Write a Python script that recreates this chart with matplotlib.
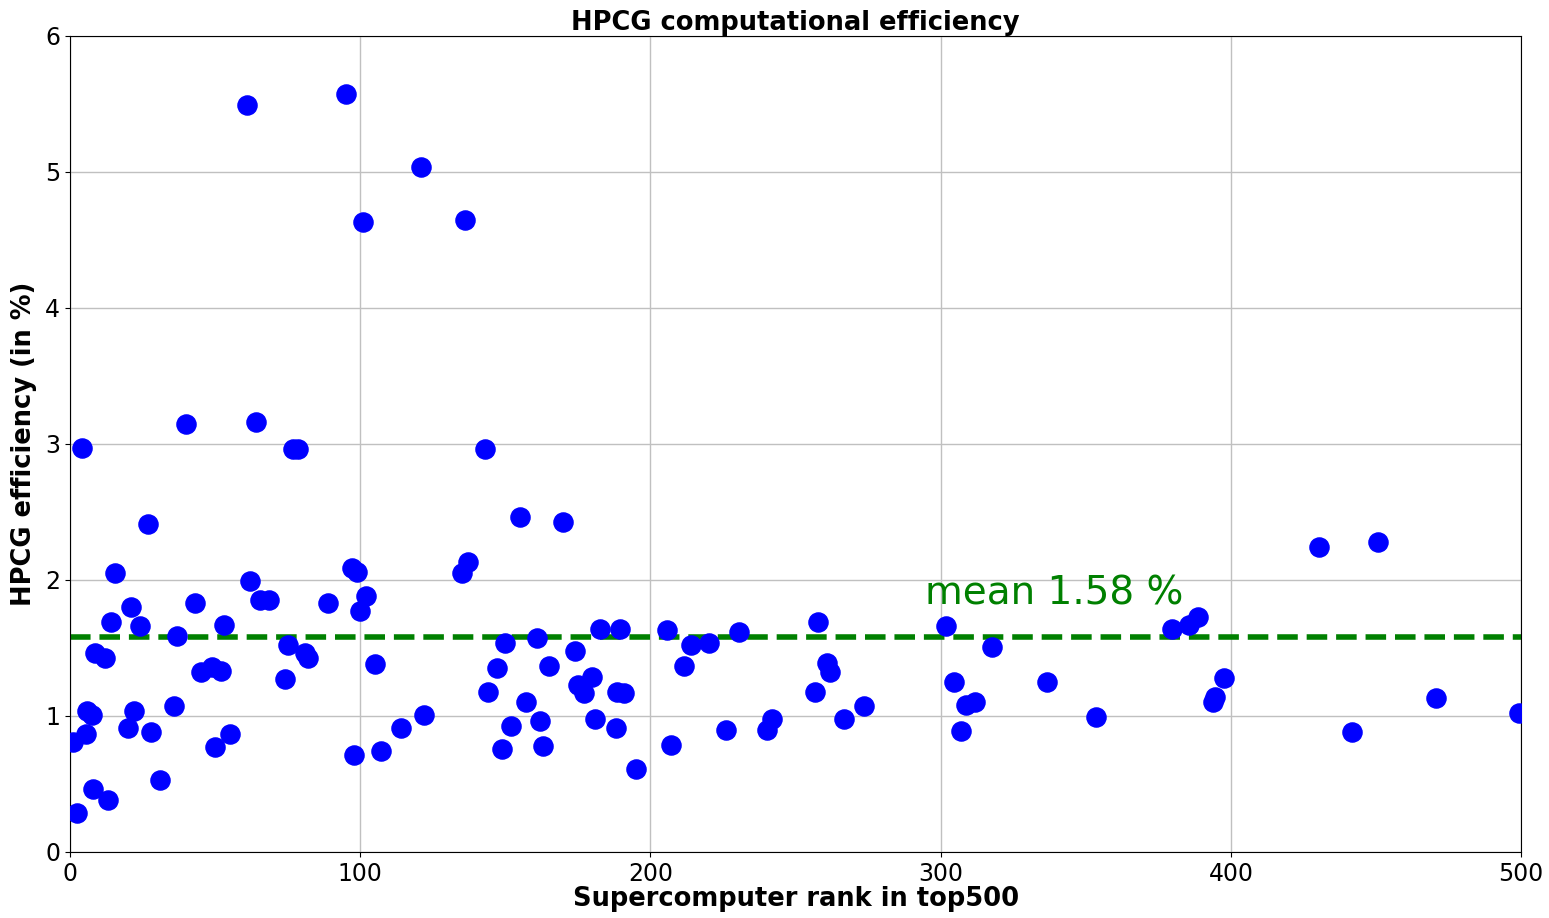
import matplotlib
matplotlib.use("Agg")
import matplotlib.pyplot as plt

# rank in top500 and HPCG efficiency (%)
rank = [1, 2.5, 4, 5.5, 6, 7.5, 8, 8.6, 12, 13, 14, 15.5, 20, 21, 22, 24, 27, 28, 31,
        36, 37, 40, 43, 45, 49, 50, 52, 53, 55, 61, 62, 64, 65.5, 68.6, 74, 75, 77, 78.6,
        81, 82, 89, 95, 97, 98, 99, 100, 101, 102, 105, 107, 114, 121, 122, 135, 136, 137,
        143, 144, 147, 149, 150, 152, 155, 157, 161, 162, 163, 165, 170, 174, 175, 177, 180,
        181, 182.5, 188, 188.5, 189.5, 191, 195, 205.7, 207, 211.6, 214, 220, 226, 230.5,
        240, 242, 256.7, 257.8, 260.8, 261.9, 266.7, 273.6, 302, 304.6, 307, 308.7, 311.8,
        317.7, 336.6, 353.5, 379.7, 385.6, 388.6, 393.9, 394.6, 397.7, 430.4, 441.8, 450.7,
        470.7, 499.3]
eff = [0.81, 0.29, 2.97, 0.87, 1.04, 1.01, 0.46, 1.46, 1.43, 0.38, 1.69, 2.05, 0.91, 1.80,
       1.04, 1.66, 2.41, 0.88, 0.53, 1.07, 1.59, 3.15, 1.83, 1.32, 1.36, 0.77, 1.33, 1.67,
       0.87, 5.49, 1.99, 3.16, 1.85, 1.85, 1.27, 1.52, 2.96, 2.96, 1.46, 1.43, 1.83, 5.57,
       2.09, 0.71, 2.06, 1.77, 4.63, 1.88, 1.38, 0.74, 0.91, 5.04, 1.01, 2.05, 4.65, 2.13,
       2.96, 1.18, 1.35, 0.76, 1.54, 0.93, 2.46, 1.10, 1.57, 0.96, 0.78, 1.37, 2.43, 1.48,
       1.23, 1.17, 1.29, 0.98, 1.64, 0.91, 1.18, 1.64, 1.17, 0.61, 1.63, 0.79, 1.37, 1.52,
       1.54, 0.90, 1.62, 0.90, 0.98, 1.18, 1.69, 1.39, 1.32, 0.98, 1.07, 1.66, 1.25, 0.89,
       1.08, 1.10, 1.51, 1.25, 0.99, 1.64, 1.67, 1.73, 1.10, 1.14, 1.28, 2.24, 0.88, 2.28,
       1.13, 1.02]
mean_eff = 1.58

fig = plt.figure(figsize=(15.49, 9.18), dpi=100)
ax = fig.add_axes([0.0452, 0.0719, 0.9368, 0.8889])

ax.scatter(rank, eff, s=190, color='blue', zorder=3)
ax.axhline(mean_eff, color='green', linestyle='--', linewidth=4, zorder=2)
ax.text(294.5, 1.82, 'mean %.2f %%' % mean_eff, color='green', fontsize=28)

ax.set_xlim(0, 500)
ax.set_ylim(0, 6)
ax.grid(True, color='#c0c0c0', linewidth=1)
ax.set_axisbelow(True)
ax.tick_params(labelsize=17)
ax.set_title('HPCG computational efficiency', fontsize=18.5, fontweight='bold', pad=3)
ax.set_xlabel('Supercomputer rank in top500', fontsize=18.5, fontweight='bold', labelpad=0)
ax.set_ylabel('HPCG efficiency (in %)', fontsize=18.5, fontweight='bold', labelpad=6)

fig.savefig('out.png', dpi=100)
